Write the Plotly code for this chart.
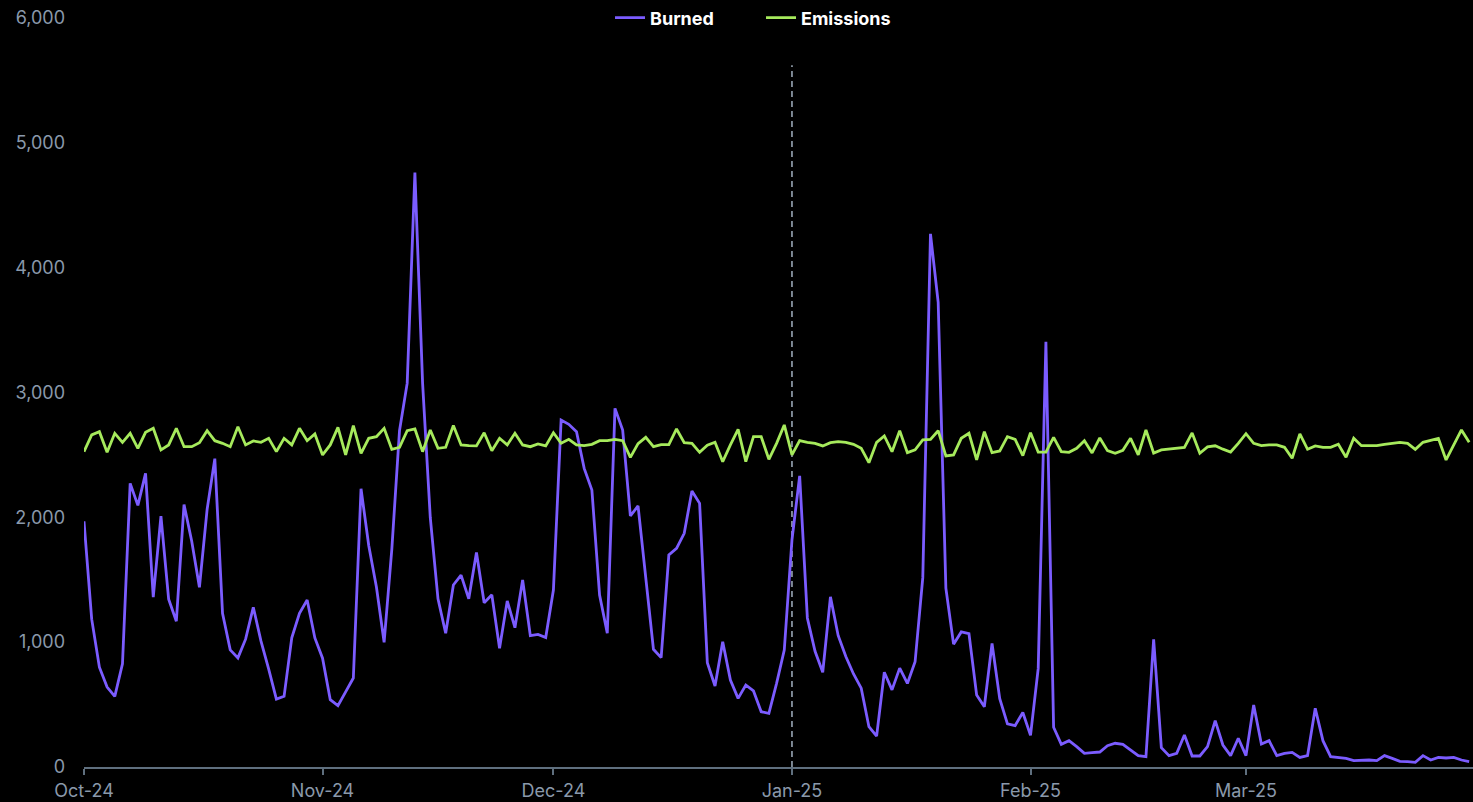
import pandas as pd
import plotly.graph_objects as go

# Daily values, 2024-10-01 .. 2025-03-30
burned_oct = [1968, 1184, 800, 640, 566, 826, 2272, 2096, 2352, 1360, 2010, 1344, 1168, 2102, 1808, 1440,
              2064, 2470, 1232, 938, 874, 1024, 1280, 1008, 784, 544, 566, 1034, 1232, 1338, 1034]
burned_nov = [872, 539, 491, 602, 713, 2229, 1775, 1442, 999, 1744, 2695, 3075, 4761, 3075, 1997, 1347,
              1071, 1458, 1537, 1347, 1718, 1316, 1379, 951, 1331, 1116, 1499, 1052, 1062, 1037]
burned_dec = [1418, 2779, 2745, 2686, 2392, 2219, 1378, 1071, 2873, 2699, 2011, 2091, 1525, 943, 876, 1698,
              1752, 1872, 2211, 2112, 836, 649, 1004, 697, 550, 657, 609, 443, 430, 670, 937]
burned_jan = [1820, 2332, 1194, 927, 759, 1363, 1054, 885, 745, 632, 323, 247, 759, 618, 792, 669,
              843, 1517, 4271, 3723, 1433, 984, 1082, 1068, 576, 483, 989, 548, 346, 332, 436]
burned_feb = [253, 790, 3407, 318, 182, 211, 163, 109, 115, 120, 171, 190, 182, 136, 91, 83,
              1023, 155, 91, 109, 256, 88, 88, 163, 371, 176, 91, 230]
burned_mar = [91, 497, 184, 211, 91, 109, 117, 77, 91, 470, 211, 83, 77, 69, 51, 56,
              56, 51, 91, 69, 45, 43, 37, 91, 56, 77, 72, 77, 56, 43]

emis_oct = [2526, 2660, 2686, 2521, 2673, 2601, 2673, 2553, 2681, 2713, 2540, 2580, 2713, 2566, 2566, 2598,
            2694, 2614, 2593, 2566, 2726, 2580, 2612, 2601, 2633, 2526, 2633, 2580, 2713, 2614, 2668]
emis_nov = [2500, 2580, 2721, 2500, 2735, 2513, 2633, 2646, 2713, 2545, 2561, 2694, 2708, 2526, 2700, 2553,
            2561, 2735, 2580, 2574, 2572, 2678, 2534, 2633, 2580, 2673, 2580, 2566, 2588, 2572]
emis_dec = [2678, 2593, 2625, 2580, 2574, 2585, 2614, 2614, 2625, 2614, 2480, 2590, 2641, 2566, 2583, 2583,
            2708, 2598, 2593, 2521, 2577, 2601, 2446, 2580, 2705, 2446, 2646, 2646, 2465, 2593, 2740]
emis_jan = [2500, 2614, 2601, 2593, 2572, 2598, 2606, 2601, 2585, 2553, 2438, 2601, 2652, 2526, 2694, 2518,
            2540, 2620, 2625, 2694, 2492, 2500, 2633, 2673, 2460, 2686, 2518, 2532, 2646, 2625, 2494]
emis_feb = [2678, 2522, 2522, 2641, 2526, 2521, 2553, 2614, 2516, 2636, 2534, 2513, 2537, 2633, 2500, 2700,
            2515, 2540, 2545, 2553, 2560, 2676, 2513, 2564, 2573, 2546, 2523, 2592]
emis_mar = [2670, 2593, 2574, 2580, 2580, 2561, 2473, 2668, 2545, 2572, 2561, 2561, 2585, 2481, 2633, 2574,
            2574, 2574, 2585, 2593, 2601, 2593, 2545, 2601, 2620, 2633, 2460, 2580, 2700, 2601]

burned = burned_oct + burned_nov + burned_dec + burned_jan + burned_feb + burned_mar
emissions = emis_oct + emis_nov + emis_dec + emis_jan + emis_feb + emis_mar
dates = pd.date_range("2024-10-01", periods=len(burned), freq="D")

tick_vals = ["2024-10-01", "2024-11-01", "2024-12-01", "2025-01-01", "2025-02-01", "2025-03-01"]
y_ticks = [0, 1000, 2000, 3000, 4000, 5000, 6000]
marker_date = "2025-01-01"

PURPLE = "#7b5cff"
GREEN = "#a6ea5c"
TICK = "#8a99ab"
AXIS = "#5f6f7e"
FONT = "Inter, Roboto, sans-serif"

fig = go.Figure()
fig.add_trace(go.Scatter(x=dates, y=burned, name="Burned", mode="lines",
                         line=dict(color=PURPLE, width=2.8)))
fig.add_trace(go.Scatter(x=dates, y=emissions, name="Emissions", mode="lines",
                         line=dict(color=GREEN, width=2.8)))

fig.add_shape(type="line", xref="x", yref="paper", x0=marker_date, x1=marker_date,
              y0=0, y1=0.937, line=dict(color="#a3b1c0", width=1.5, dash="6px,4px"), layer="below")

fig.update_layout(
    width=1473, height=802,
    paper_bgcolor="#000000", plot_bgcolor="#000000",
    margin=dict(l=84, r=0, t=18, b=35, autoexpand=False),
    font=dict(family=FONT, color=TICK, size=18),
    showlegend=True,
    legend=dict(orientation="h", x=0.3787, xanchor="left", y=1.0, yanchor="middle",
                entrywidth=106, entrywidthmode="pixels",
                font=dict(family=FONT, color="#ffffff", size=18, weight="bold"),
                bgcolor="rgba(0,0,0,0)"),
    hovermode="x unified",
)
fig.update_xaxes(
    type="date", range=["2024-10-01", "2025-03-30 12:00"],
    tickvals=tick_vals, tickformat="%b-%y",
    showgrid=False, zeroline=False,
    showline=True, linecolor=AXIS, linewidth=1.5,
    ticks="outside", ticklen=6, tickcolor=AXIS, tickwidth=1.5,
    ticklabelstandoff=1,
    tickfont=dict(family=FONT, color=TICK, size=18),
)
fig.update_yaxes(
    range=[0, 6000], tickvals=y_ticks, tickformat=",",
    showgrid=False, zeroline=False, showline=False,
    ticks="", ticklabelstandoff=18,
    tickfont=dict(family=FONT, color=TICK, size=18),
)

fig.write_html("out.html", config={"displayModeBar": False},
               post_script="document.body.style.margin='0';")
